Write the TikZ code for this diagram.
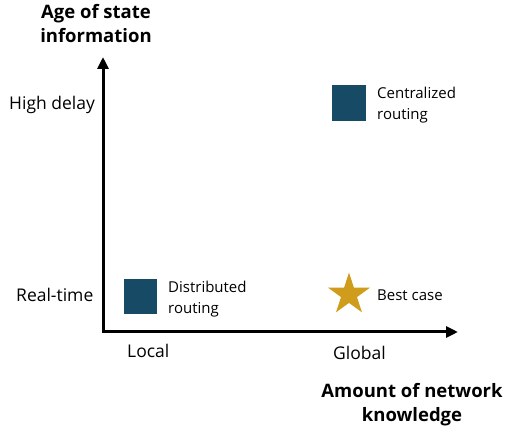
\documentclass[tikz,border=0pt]{standalone}
\usepackage{fontspec}
\setmainfont{Open Sans}
\usetikzlibrary{shapes.geometric,arrows.meta}
\definecolor{sqcol}{HTML}{174A64}
\definecolor{goldcol}{HTML}{D09C1C}
\tikzset{
  axis/.style={line width=3pt, line join=miter, {Triangle[length=12pt,width=11pt]}-{Triangle[length=12pt,width=11pt]}},
  ticklbl/.style={inner sep=0pt, anchor=base west, font=\fontsize{17.5}{21}\selectfont},
  ptlbl/.style={inner sep=0pt, anchor=base west, align=left, font=\fontsize{15}{20.5}\selectfont},
  title/.style={inner sep=0pt, anchor=base, align=center, font=\bfseries\fontsize{18.5}{24}\selectfont},
  sqbox/.style={rectangle, fill=sqcol, inner sep=0pt},
  starbox/.style={star, star points=5, star point ratio=2.618, fill=goldcol, inner sep=0pt, minimum size=44pt}
}
\begin{document}
\begin{tikzpicture}[x=1pt,y=-1pt]
\useasboundingbox (0,0) rectangle (507,435);
\coordinate (O) at (103,332);
\coordinate (Ytip) at (103,57);
\coordinate (Xtip) at (458,332);
\draw[axis] (Ytip) -- (O) -- (Xtip);
\node[title] (ytitle) at (96,43) {Age of state\\information};
\node[title] (xtitle) at (412,422) {Amount of network\\knowledge};
\node[ticklbl] (hd) at (9,110) {High delay};
\node[ticklbl] (rt) at (16,302) {Real-time};
\node[ticklbl] (loc) at (127,358) {Local};
\node[ticklbl] (glo) at (333,360) {Global};
\node[sqbox, minimum width=33pt, minimum height=35pt] (dsq) at (140.5,296.5) {};
\node[sqbox, minimum width=34pt, minimum height=36pt] (csq) at (349,103) {};
\node[starbox] (best) at (349,294.5) {};
\node[ptlbl] (dlbl) at (168,313.5) {Distributed\\routing};
\node[ptlbl] (clbl) at (377,119.5) {Centralized\\routing};
\node[ptlbl] (blbl) at (377,301) {Best case};
\end{tikzpicture}
\end{document}
